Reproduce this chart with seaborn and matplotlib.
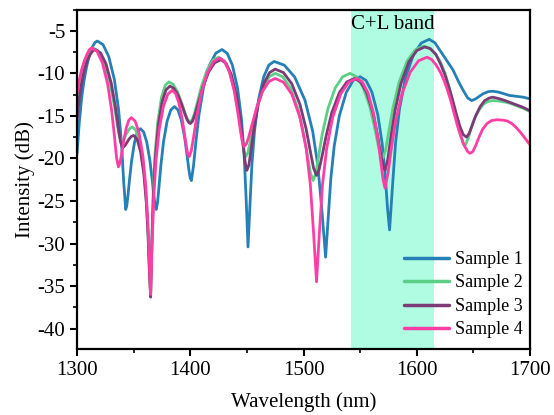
import numpy as np
import pandas as pd
import matplotlib
matplotlib.use("Agg")
import matplotlib.pyplot as plt
import seaborn as sns
from matplotlib.ticker import MultipleLocator

# ---- data ----
s1_x = [1300, 1302, 1304, 1306, 1308.5, 1311, 1314, 1316, 1318,
        1323, 1328, 1333, 1336.75, 1339.25, 1341.25, 1343,
        1343.9, 1344.95, 1346.25, 1348.2, 1350.8, 1353.4, 1356,
        1358.8, 1361.6, 1364.4, 1366.5, 1367.9, 1369.0, 1370,
        1371.1, 1372.4, 1374, 1376.4, 1379.6, 1382.8, 1386,
        1389, 1392, 1395, 1397.25, 1398.75, 1399.95, 1401,
        1402.9, 1405.05, 1407.75, 1411.8, 1417.2, 1422.6, 1428,
        1432.6, 1437.2, 1441.8, 1445.25, 1447.55, 1449.4, 1451,
        1452.6, 1454.45, 1456.75, 1460.2, 1464.8, 1469.4, 1474,
        1483.1, 1492.2, 1501.3, 1508.1, 1512.7, 1516.3, 1519.5,
        1521.6, 1524.1, 1527.1, 1531.7, 1537.8, 1543.9, 1550,
        1555.2, 1560.4, 1565.6, 1569.5, 1572.1, 1574.2, 1576,
        1578.5, 1581.25, 1584.75, 1590, 1597, 1604, 1611,
        1616, 1620.5, 1626, 1632, 1637, 1641, 1645, 1648.5, 1652, 1658.5,
        1663, 1667, 1672, 1677, 1682, 1688, 1694, 1700]
s1_y = [-19.5, -15.8, -13.0, -11.0, -9.2, -7.8, -6.8, -6.35, -6.2,
        -6.63, -8.02, -10.73, -14.3, -18.14, -22.8, -26.0,
        -25.6, -24.4, -22.65, -20.28, -18.09, -16.88, -16.5,
        -16.88, -18.09, -20.28, -22.65, -24.4, -25.6, -26.0,
        -25.18, -23.32, -20.88, -18.03, -15.6, -14.31, -13.9,
        -14.27, -15.43, -17.5, -19.7, -21.3, -22.3, -22.6,
        -20.83, -17.94, -14.81, -11.56, -8.97, -7.62, -7.2,
        -7.64, -9.03, -11.77, -15.4, -19.5, -24.9, -30.4,
        -25.8, -20.7, -16.76, -13.15, -10.42, -9.03, -8.6,
        -9.04, -10.43, -13.17, -16.8, -20.9, -26.2, -31.6,
        -27.4, -22.4, -18.55, -14.95, -12.22, -10.83, -10.4,
        -10.83, -12.2, -14.87, -18.3, -21.9, -25.9, -28.4,
        -23.4, -18.2, -14.18, -10.56, -7.82, -6.43, -6.0,
        -6.4, -7.3, -8.4, -9.6, -11.0, -12.0, -12.9, -13.2, -13.0, -12.4,
        -12.15, -12.1, -12.2, -12.4, -12.6, -12.7, -12.8, -13.0]

s2_x = [1300, 1302, 1304, 1306.5, 1309, 1311.5, 1314,
        1319, 1324, 1329, 1332.75, 1335.25, 1337.25, 1339,
        1339.7, 1340.5, 1341.5, 1343, 1345, 1347, 1349,
        1352.2, 1355.4, 1358.6, 1361, 1362.6, 1363.9, 1365,
        1366.1, 1367.4, 1369, 1371.4, 1374.6, 1377.8, 1381,
        1384.8, 1388.6, 1392.4, 1395.25, 1397.15, 1398.7, 1400,
        1401.75, 1403.75, 1406.25, 1410, 1415, 1420, 1425,
        1429.8, 1434.6, 1439.4, 1443, 1445.4, 1447.3, 1449,
        1450.8, 1452.9, 1455.5, 1459.4, 1464.6, 1469.8, 1475,
        1481.7, 1488.4, 1495.1, 1500.1, 1503.5, 1506.2, 1508.5,
        1510.8, 1513.4, 1516.6, 1521.5, 1528, 1534.5, 1541,
        1546.8, 1552.6, 1558.4, 1562.75, 1565.65, 1568, 1570,
        1572.5, 1575.4, 1579, 1584.4, 1591.6, 1598.8, 1606,
        1611, 1616, 1621, 1625, 1629, 1632, 1635, 1638, 1641, 1643,
        1645.5, 1648, 1651, 1655, 1659, 1663, 1667, 1672, 1677, 1682,
        1688, 1694, 1700]
s2_y = [-14.0, -12.0, -10.5, -9.1, -8.1, -7.4, -7.0,
        -7.40, -8.66, -10.98, -13.63, -15.8, -17.3, -17.9,
        -17.88, -17.8, -17.63, -17.27, -16.78, -16.43, -16.3,
        -16.73, -18.12, -20.83, -24.4, -28.24, -32.9, -36.0,
        -29.2, -23.4, -19.27, -15.59, -12.83, -11.44, -11.0,
        -11.28, -12.12, -13.45, -14.6, -15.27, -15.6, -15.7,
        -15.45, -14.7, -13.4, -11.48, -9.55, -8.45, -8.1,
        -8.51, -9.79, -12.19, -15.0, -17.35, -19.1, -19.8,
        -19.35, -18.1, -16.27, -13.82, -11.61, -10.39, -10.0,
        -10.41, -11.71, -14.18, -17.1, -19.7, -21.75, -22.6,
        -21.75, -19.7, -17.1, -14.18, -11.71, -10.41, -10.0,
        -10.39, -11.62, -13.86, -16.35, -18.27, -19.55, -20.0,
        -19.0, -16.75, -14.03, -11.02, -8.53, -7.21, -6.8,
        -7.0, -7.6, -8.7, -10.0, -11.8, -13.5, -15.3, -17.0, -18.3, -18.4,
        -17.6, -16.4, -15.3, -14.3, -13.6, -13.3, -13.2, -13.25, -13.35, -13.5,
        -13.8, -14.1, -14.5]

s3_x = [1300, 1302, 1304, 1306.5, 1309, 1312, 1314, 1316,
        1320.8, 1325.6, 1330.4, 1334, 1336.4, 1338.3, 1340,
        1340.7, 1341.5, 1342.5, 1344, 1346, 1348, 1350,
        1353, 1356, 1359, 1361.25, 1362.75, 1363.95, 1365,
        1366.2, 1367.55, 1369.25, 1371.8, 1375.2, 1378.6, 1382,
        1385.6, 1389.2, 1392.8, 1395.5, 1397.3, 1398.7, 1400,
        1401.9, 1404.05, 1406.75, 1410.8, 1416.2, 1421.6, 1427,
        1431.6, 1436.2, 1440.8, 1444.25, 1446.55, 1448.4, 1450,
        1451.75, 1453.75, 1456.25, 1460, 1465, 1470, 1475,
        1482.3, 1489.6, 1496.9, 1502.4, 1506.0, 1508.9, 1511.5,
        1513.8, 1516.5, 1519.9, 1524.9, 1531.6, 1538.3, 1545,
        1550.4, 1555.8, 1561.2, 1565.25, 1567.95, 1570.1, 1572,
        1574.45, 1577.25, 1580.75, 1586, 1593, 1600, 1607,
        1612, 1617, 1621, 1625, 1629, 1632, 1635, 1638, 1641, 1644,
        1646.5, 1649, 1652, 1656, 1660, 1664, 1667, 1672, 1677, 1682,
        1688, 1694, 1700]
s3_y = [-15.5, -13.0, -11.2, -9.6, -8.5, -7.7, -7.35, -7.2,
        -7.6, -8.88, -11.26, -14.02, -16.3, -18.0, -18.7,
        -18.68, -18.61, -18.46, -18.15, -17.72, -17.41, -17.3,
        -17.73, -19.11, -21.81, -25.3, -29.1, -33.5, -36.3,
        -29.7, -23.9, -19.77, -16.09, -13.33, -11.94, -11.5,
        -11.77, -12.56, -13.8, -14.87, -15.47, -15.77, -15.9,
        -15.65, -14.9, -13.64, -11.74, -9.84, -8.75, -8.4,
        -8.81, -10.12, -12.6, -15.6, -18.25, -20.4, -21.4,
        -20.78, -18.92, -16.48, -13.63, -11.2, -9.91, -9.5,
        -9.91, -11.21, -13.67, -16.58, -19.15, -21.15, -22.0,
        -21.3, -19.65, -17.4, -14.65, -12.28, -11.0, -10.6,
        -11.0, -12.25, -14.57, -17.2, -19.33, -20.8, -21.4,
        -20.1, -17.4, -14.4, -11.22, -8.66, -7.32, -6.9,
        -7.1, -7.8, -8.9, -10.2, -11.9, -13.3, -14.8, -16.2, -17.2, -17.5,
        -17.0, -16.1, -15.0, -13.9, -13.2, -12.9, -12.8, -12.95, -13.15, -13.4,
        -13.7, -14.0, -14.4]

s4_x = [1300, 1302, 1304, 1306.5, 1309, 1311, 1313,
        1317.7, 1322.4, 1327.1, 1330.6, 1333, 1334.9, 1336.5,
        1337.3, 1338.2, 1339.4, 1341.1, 1343.4, 1345.7, 1348,
        1351.4, 1354.8, 1358.2, 1360.75, 1362.45, 1363.8, 1365,
        1366.3, 1367.85, 1369.75, 1372.6, 1376.4, 1380.2, 1384,
        1387, 1390, 1393, 1395.25, 1396.75, 1397.95, 1399,
        1400.9, 1403.05, 1405.75, 1409.8, 1415.2, 1420.6, 1426,
        1430.3, 1434.6, 1438.9, 1442.1, 1444.3, 1446, 1447.5,
        1449.4, 1451.6, 1454.4, 1458.5, 1464, 1469.5, 1475,
        1482.3, 1489.6, 1496.9, 1502.4, 1506, 1508.9, 1511.5,
        1514, 1516.8, 1520.4, 1525.7, 1532.8, 1539.9, 1547,
        1552, 1557, 1562, 1565.75, 1568.25, 1570.25, 1572,
        1574.6, 1577.55, 1581.25, 1586.8, 1594.2, 1601.6, 1609,
        1613, 1617, 1621, 1624, 1627, 1630, 1633, 1636, 1639, 1642,
        1645, 1647, 1649.5, 1652, 1655, 1658, 1662, 1666, 1671, 1676,
        1680, 1684, 1688, 1692, 1696, 1700]
s4_y = [-12.5, -10.8, -9.6, -8.5, -7.7, -7.2, -7.0,
        -7.42, -8.75, -11.28, -14.4, -17.3, -19.9, -21.0,
        -20.75, -20.3, -19.45, -18.03, -16.46, -15.51, -15.2,
        -15.63, -17.02, -19.73, -23.3, -27.2, -31.9, -36.0,
        -30.0, -24.35, -20.25, -16.58, -13.83, -12.44, -12.0,
        -12.36, -13.48, -15.44, -17.42, -18.76, -19.55, -19.8,
        -19.1, -17.4, -15.05, -12.28, -9.88, -8.6, -8.2,
        -8.59, -9.84, -12.12, -14.7, -16.7, -18.05, -18.6,
        -18.33, -17.5, -16.1, -14.08, -12.09, -10.96, -10.6,
        -11.04, -12.43, -15.19, -18.87, -23.0, -28.8, -34.5,
        -28.8, -23.0, -18.87, -15.19, -12.43, -11.04, -10.6,
        -11.01, -12.32, -14.8, -17.77, -20.4, -22.5, -23.5,
        -21.73, -18.84, -15.71, -12.46, -9.87, -8.52, -8.1,
        -8.35, -9.0, -9.9, -10.8, -11.9, -13.2, -14.7, -16.2, -17.4, -18.5,
        -19.2, -19.4, -19.2, -18.5, -17.5, -16.6, -15.9, -15.55, -15.45, -15.5,
        -15.6, -15.9, -16.4, -17.0, -17.7, -18.4]

names = ["Sample 1", "Sample 2", "Sample 3", "Sample 4"]
colors = ["#2580B5", "#5BCF86", "#7B3B75", "#FF3EA5"]
band = (1542, 1615)
band_label = "C+L band"

frames = []
for n, xs, ys in zip(names, [s1_x, s2_x, s3_x, s4_x], [s1_y, s2_y, s3_y, s4_y]):
    frames.append(pd.DataFrame({"Wavelength": xs, "Intensity": ys, "Sample": n}))
df = pd.concat(frames, ignore_index=True)

sns.set_style("ticks")
plt.rcParams["font.family"] = ["Liberation Serif", "DejaVu Serif"]
plt.rcParams["axes.unicode_minus"] = False
for k in ["text.color", "axes.labelcolor", "xtick.color", "ytick.color", "axes.edgecolor"]:
    plt.rcParams[k] = "black"

fig = plt.figure(figsize=(5.54, 4.15), dpi=100)
ax = fig.add_axes([0.139, 0.159, 0.9567 - 0.139, 0.977 - 0.159])

ax.axvspan(band[0], band[1], color="#AFFCE3", lw=0, zorder=0)
ax.text((band[0] + band[1]) / 2, -4.3, band_label, ha="center", va="center",
        fontsize=15, zorder=5)

sns.lineplot(data=df, x="Wavelength", y="Intensity", hue="Sample",
             palette=dict(zip(names, colors)), estimator=None, sort=False,
             linewidth=2.0, ax=ax, zorder=3)

ax.set_xlim(1300, 1700)
ax.set_ylim(-42.4, -2.5)
ax.xaxis.set_major_locator(MultipleLocator(100))
ax.xaxis.set_minor_locator(MultipleLocator(50))
ax.yaxis.set_major_locator(MultipleLocator(5))
ax.yaxis.set_minor_locator(MultipleLocator(2.5))
ax.tick_params(which="major", direction="out", length=5, width=1.5, labelsize=15,
               top=False, right=False, colors="black")
ax.tick_params(which="minor", direction="out", length=3, width=1.2,
               top=False, right=False, colors="black")
for sp in ax.spines.values():
    sp.set_linewidth(1.6)
    sp.set_visible(True)
    sp.set_color("black")
    sp.set_zorder(6)

ax.set_xlabel("Wavelength (nm)", fontsize=15, labelpad=9)
ax.set_ylabel("Intensity (dB)", fontsize=15, labelpad=2)

leg = ax.legend(loc="lower right", frameon=False, fontsize=13, handlelength=2.5,
                handletextpad=0.3, labelspacing=0.36, borderaxespad=0.0,
                bbox_to_anchor=(1.0, 0.01))
for h in leg.get_lines():
    h.set_linewidth(2.5)

fig.savefig("out.png", dpi=100)
